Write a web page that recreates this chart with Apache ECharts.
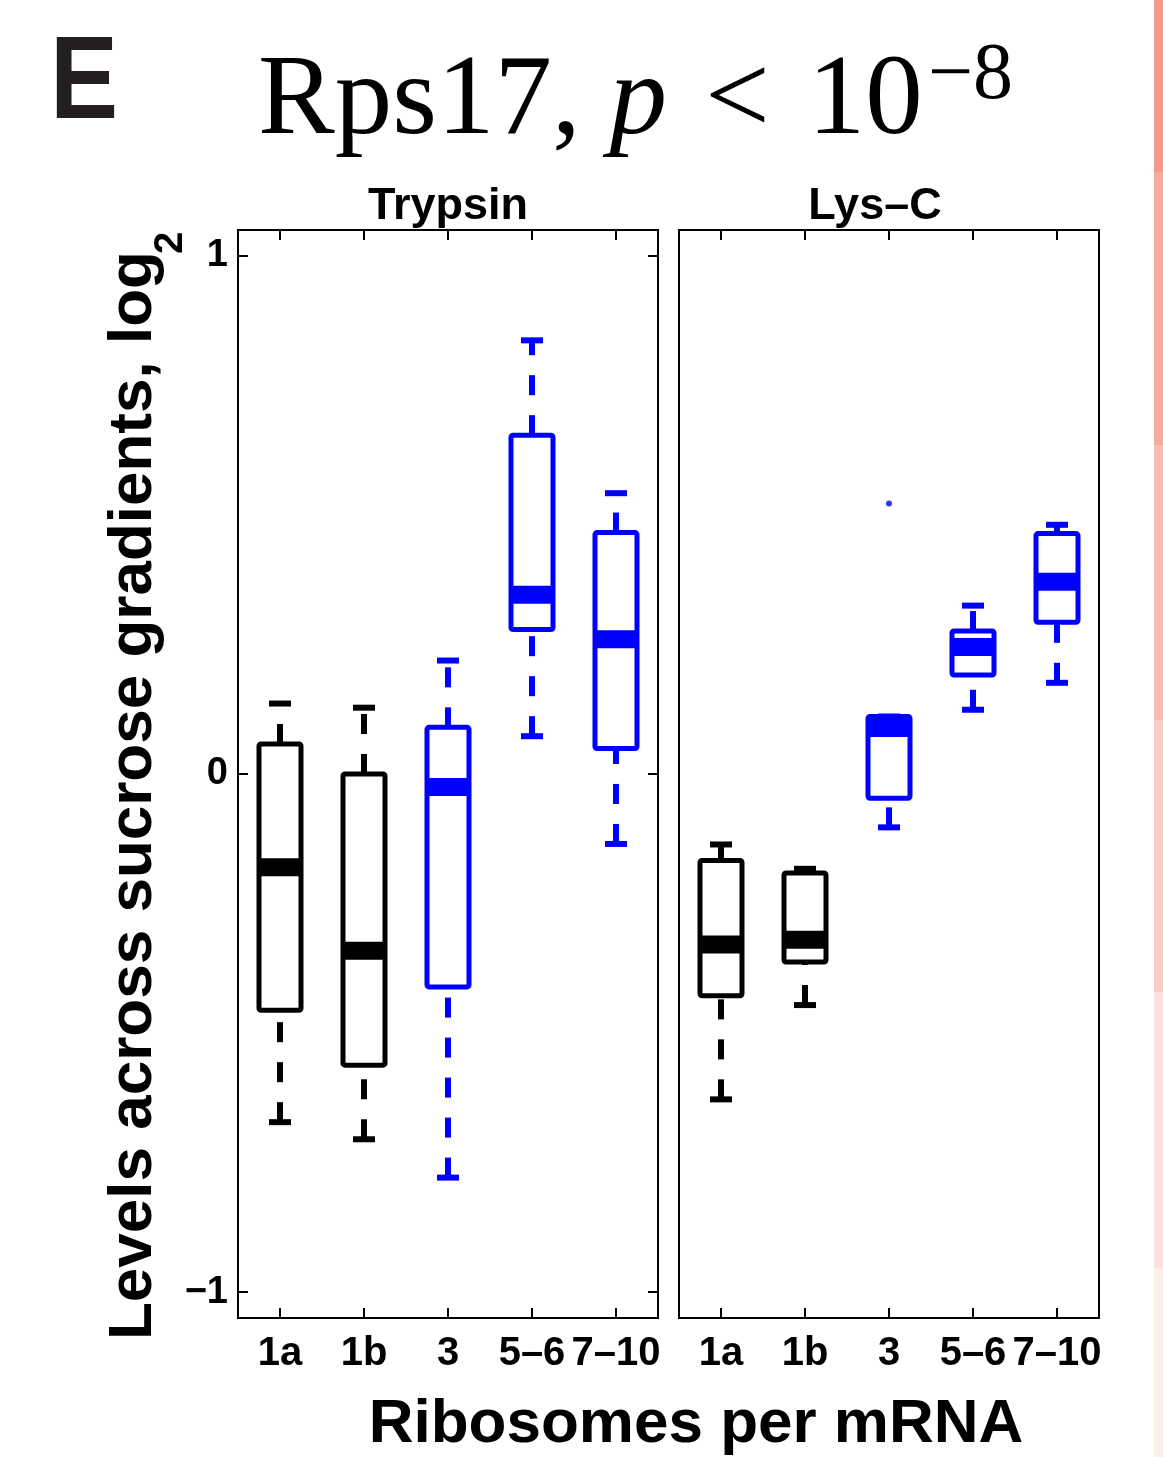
<!DOCTYPE html>
<html>
<head>
<meta charset="utf-8">
<title>Rps17 boxplots</title>
<script src="https://cdn.jsdelivr.net/npm/echarts@6.0.0/dist/echarts.min.js"></script>
<style>
  html, body { margin: 0; padding: 0; background: #fff; }
  #chart { width: 1163px; height: 1457px; }
</style>
</head>
<body>
<div id="chart"></div>
<script>
// categories (ribosomes per mRNA)
const categories = ["1a", "1b", "3", "5–6", "7–10"];
const boxColors = ["#000000", "#000000", "#0000ff", "#0000ff", "#0000ff"];
const yTicks = [-1, 0, 1];

// Trypsin: whisker low, Q1, median, Q3, whisker high
const trypsinLow = [-0.672, -0.705, -0.779, 0.073, -0.135];
const trypsinQ1 = [-0.456, -0.562, -0.411, 0.279, 0.049];
const trypsinMed = [-0.180, -0.341, -0.025, 0.346, 0.260];
const trypsinQ3 = [0.058, 0.000, 0.090, 0.654, 0.466];
const trypsinHigh = [0.136, 0.128, 0.219, 0.837, 0.542];

// Lys-C
const lysLow = [-0.628, -0.446, -0.103, 0.124, 0.176];
const lysQ1 = [-0.428, -0.363, -0.047, 0.191, 0.293];
const lysMed = [-0.329, -0.320, 0.089, 0.245, 0.371];
const lysQ3 = [-0.167, -0.191, 0.111, 0.276, 0.464];
const lysHigh = [-0.136, -0.183, 0.111, 0.325, 0.481];
const lysOutliers = [[2, 0.522]];

const sans = "Liberation Sans, Arial, sans-serif";
const serif = "Liberation Serif, Times New Roman, serif";

function toRows(low, q1, med, q3, high) {
  return categories.map((c, i) => [i, low[i], q1[i], med[i], q3[i], high[i]]);
}

// MATLAB-style box: dashed whiskers, caps, box outline, thick median
function renderBox(params, api) {
  const i = api.value(0);
  const color = boxColors[i];
  const lo = api.coord([i, api.value(1)]);
  const q1 = api.coord([i, api.value(2)]);
  const md = api.coord([i, api.value(3)]);
  const q3 = api.coord([i, api.value(4)]);
  const hi = api.coord([i, api.value(5)]);
  const cx = lo[0];
  const halfBox = 21;
  const halfCap = 11;
  const dash = { stroke: color, lineWidth: 6, lineDash: [20, 20], lineCap: "butt", fill: null };
  const cap = { stroke: color, lineWidth: 6, lineCap: "butt", fill: null };
  return {
    type: "group",
    children: [
      { type: "line", shape: { x1: cx, y1: lo[1], x2: cx, y2: q1[1] }, style: dash },
      { type: "line", shape: { x1: cx, y1: q3[1], x2: cx, y2: hi[1] }, style: dash },
      { type: "line", shape: { x1: cx - halfCap, y1: lo[1], x2: cx + halfCap, y2: lo[1] }, style: cap },
      { type: "line", shape: { x1: cx - halfCap, y1: hi[1], x2: cx + halfCap, y2: hi[1] }, style: cap },
      {
        type: "rect",
        shape: { x: cx - halfBox, y: q3[1], width: halfBox * 2, height: q1[1] - q3[1], r: 2 },
        style: { fill: "#fff", stroke: color, lineWidth: 5, lineJoin: "round" }
      },
      { type: "line", shape: { x1: cx - halfBox, y1: md[1], x2: cx + halfBox, y2: md[1] }, style: { stroke: color, lineWidth: 18, fill: null } }
    ]
  };
}

const tickStyle = { color: "#000", width: 2 };

function catAxis(grid, pos, showLabel) {
  return {
    gridIndex: grid,
    type: "category",
    data: categories,
    position: pos,
    axisLine: { show: true, onZero: false, lineStyle: { color: "#000", width: 2 } },
    axisTick: { show: true, inside: true, alignWithLabel: true, interval: 0, length: 10, lineStyle: tickStyle },
    axisLabel: {
      show: showLabel,
      color: "#000",
      fontSize: 40,
      fontWeight: "bold",
      fontFamily: sans,
      margin: 16,
      interval: 0
    },
    splitLine: { show: false }
  };
}

function valAxis(grid, pos, showTicks, showLabel) {
  return {
    gridIndex: grid,
    type: "value",
    min: -1.05,
    max: 1.05,
    position: pos,
    axisLine: { show: true, onZero: false, lineStyle: { color: "#000", width: 2 } },
    axisTick: { show: showTicks, inside: true, length: 10, lineStyle: tickStyle, customValues: yTicks },
    axisLabel: {
      show: showLabel,
      customValues: yTicks,
      formatter: (v) => (v < 0 ? "−" + Math.abs(v) : String(v)),
      color: "#000",
      fontSize: 38,
      fontWeight: "bold",
      fontFamily: sans,
      margin: 10
    },
    splitLine: { show: false }
  };
}

// decorative stripe on the right edge of the page
const stripeBreaks = [0, 172, 445, 720, 992, 1268, 1457];
const stripeColors = ["#f4998a", "#f6ab9f", "#f8bcb2", "#fbcdc6", "#fcdfda", "#fdeeeb"];
const stripe = stripeColors.map((c, k) => ({
  type: "rect",
  shape: { x: 1154, y: stripeBreaks[k], width: 9, height: stripeBreaks[k + 1] - stripeBreaks[k] },
  style: { fill: c }
}));

const chart = echarts.init(document.getElementById("chart"), null, { renderer: "canvas" });

chart.setOption({
  backgroundColor: "#fff",
  animation: false,
  grid: [
    { left: 238, top: 230, width: 420, height: 1088, show: true, borderColor: "#000", borderWidth: 2 },
    { left: 679, top: 230, width: 420, height: 1088, show: true, borderColor: "#000", borderWidth: 2 }
  ],
  xAxis: [
    catAxis(0, "bottom", true),
    catAxis(0, "top", false),
    catAxis(1, "bottom", true),
    catAxis(1, "top", false)
  ],
  yAxis: [
    valAxis(0, "left", true, true),
    valAxis(0, "right", true, false),
    valAxis(1, "left", false, false)
  ],
  series: [
    {
      name: "Trypsin",
      type: "custom",
      xAxisIndex: 0,
      yAxisIndex: 0,
      renderItem: renderBox,
      encode: { x: 0, y: [1, 2, 3, 4, 5] },
      data: toRows(trypsinLow, trypsinQ1, trypsinMed, trypsinQ3, trypsinHigh)
    },
    {
      name: "Lys-C",
      type: "custom",
      xAxisIndex: 2,
      yAxisIndex: 2,
      renderItem: renderBox,
      encode: { x: 0, y: [1, 2, 3, 4, 5] },
      data: toRows(lysLow, lysQ1, lysMed, lysQ3, lysHigh)
    },
    {
      name: "Lys-C outliers",
      type: "scatter",
      xAxisIndex: 2,
      yAxisIndex: 2,
      symbolSize: 6,
      itemStyle: { color: "#0000ff" },
      data: lysOutliers
    }
  ],
  graphic: [
    {
      type: "text", x: 50, y: 86, scaleX: 0.88,
      style: { text: "E", fontSize: 116, fontWeight: "bold", fontFamily: sans, fill: "#231f20", align: "left", verticalAlign: "middle" }
    },
    {
      type: "text", x: 258, y: 103,
      style: {
        text: "{n|Rps17, }{i|p}{g| }{n|<}{g| }{n|10}",
        align: "left",
        verticalAlign: "middle",
        rich: {
          n: { fontSize: 115, fontFamily: serif, fill: "#000" },
          i: { fontSize: 115, fontFamily: serif, fontStyle: "italic", fill: "#000" },
          g: { fontSize: 115, fontFamily: serif, width: 38 }
        }
      }
    },
    {
      type: "text", x: 928, y: 77,
      style: { text: "−8", fontSize: 80, fontFamily: serif, fill: "#000", align: "left", verticalAlign: "middle" }
    },
    {
      type: "text", x: 448, y: 207,
      style: { text: "Trypsin", fontSize: 45, fontWeight: "bold", fontFamily: sans, fill: "#000", align: "center", verticalAlign: "middle" }
    },
    {
      type: "text", x: 875, y: 207,
      style: { text: "Lys–C", fontSize: 45, fontWeight: "bold", fontFamily: sans, fill: "#000", align: "center", verticalAlign: "middle" }
    },
    {
      type: "text", x: 134, y: 1340, rotation: Math.PI / 2,
      style: { text: "Levels across sucrose gradients, log", fontSize: 62, fontWeight: "bold", fontFamily: sans, fill: "#000", align: "left", verticalAlign: "middle" }
    },
    {
      type: "text", x: 171, y: 254, rotation: Math.PI / 2,
      style: { text: "2", fontSize: 40, fontWeight: "bold", fontFamily: sans, fill: "#000", align: "left", verticalAlign: "middle" }
    },
    {
      type: "text", x: 696, y: 1425,
      style: { text: "Ribosomes per mRNA", fontSize: 62, fontWeight: "bold", fontFamily: sans, fill: "#000", align: "center", verticalAlign: "middle" }
    }
  ].concat(stripe)
});

window.addEventListener("resize", () => chart.resize());
</script>
</body>
</html>
